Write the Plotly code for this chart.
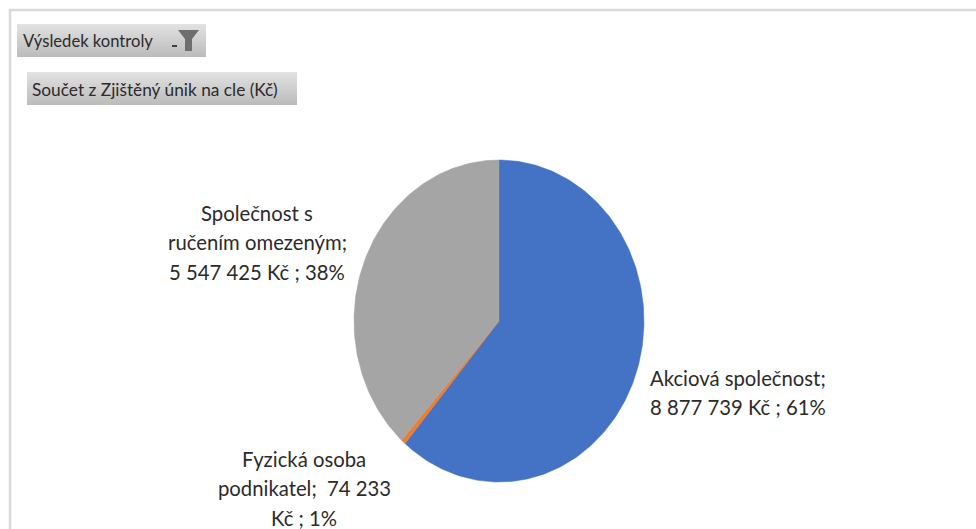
import math
import plotly.graph_objects as go

categories = ["Akciová společnost", "Fyzická osoba podnikatel", "Společnost s ručením omezeným"]
values = [8877739, 74233, 5547425]
slice_colors = ["#4472C4", "#ED7D31", "#A5A5A5"]
label_lines = [
    ["Akciová společnost;", "8 877 739 Kč ; 61%"],
    ["Fyzická osoba", "podnikatel;  74 233", "Kč ; 1%"],
    ["Společnost s", "ručením omezeným;", "5 547 425 Kč ; 38%"],
]
label_positions = [(738, 378), (304, 459), (257, 213)]
label_pitch = 29.3
filter_title = "Výsledek kontroly"
value_title = "Součet z Zjištěný únik na cle (Kč)"

W, H = 976, 529
CX, CY, RX, RY = 499, 321, 145, 161
FONT = "Lato, sans-serif"
TEXT = "#2b2b2b"


def px(x):
    return x / W


def py(y):
    return 1 - y / H


fig = go.Figure()
total = sum(values)
start = 0.0
for name, v, color in zip(categories, values, slice_colors):
    sweep = 360 * v / total
    steps = max(2, int(sweep))
    angles = [start + sweep * i / steps for i in range(steps + 1)]
    xs = [0] + [math.sin(math.radians(a)) for a in angles] + [0]
    ys = [0] + [math.cos(math.radians(a)) for a in angles] + [0]
    fig.add_trace(go.Scatter(
        x=xs, y=ys, mode="lines", fill="toself", fillcolor=color,
        line=dict(color=color, width=0.5), name=name, hoverinfo="name",
        showlegend=False,
    ))
    start += sweep

shapes = []


def gradient_rect(x0, y0, x1, y1):
    n = y1 - y0
    for i in range(n):
        t = i / max(1, n - 1)
        # light grey at the top, darker at the bottom
        g = int(226 - 38 * t)
        shapes.append(dict(
            type="rect", xref="paper", yref="paper", layer="below",
            x0=px(x0), x1=px(x1), y0=py(y0 + i), y1=py(y0 + i + 1),
            fillcolor=f"rgb({g},{g},{g})", line=dict(width=0),
        ))


gradient_rect(17, 24, 206, 57)
gradient_rect(27, 72, 297, 105)

# outer frame lines
shapes.append(dict(type="line", xref="paper", yref="paper", x0=px(9), x1=1, y0=py(10), y1=py(10),
                   line=dict(color="#D9D9D9", width=2.5)))
shapes.append(dict(type="line", xref="paper", yref="paper", x0=px(10), x1=px(10), y0=py(9), y1=0,
                   line=dict(color="#D9D9D9", width=2.5)))

# funnel icon and drop-down mark
funnel = [(178, 30), (199, 30), (192, 39), (192, 51), (185, 51), (185, 39)]
path = "M " + " L ".join(f"{px(x)} {py(y)}" for x, y in funnel) + " Z"
shapes.append(dict(type="path", xref="paper", yref="paper", path=path,
                   fillcolor="#6E6E6E", line=dict(width=0)))
shapes.append(dict(type="rect", xref="paper", yref="paper", x0=px(172), x1=px(177), y0=py(45), y1=py(47),
                   fillcolor="#3F3F3F", line=dict(width=0)))

annotations = [
    dict(text=filter_title, x=px(22), y=py(41), xanchor="left", yanchor="middle",
         font=dict(size=16.6, color=TEXT, family=FONT)),
    dict(text=value_title, x=px(31), y=py(89), xanchor="left", yanchor="middle",
         font=dict(size=17.3, color=TEXT, family=FONT)),
]
for lines, (x, y) in zip(label_lines, label_positions):
    for i, t in enumerate(lines):
        annotations.append(dict(text=t, x=px(x), y=py(y + i * label_pitch), xanchor="center",
                                yanchor="middle", align="center",
                                font=dict(size=20.3, color=TEXT, family=FONT)))
for a in annotations:
    a.update(xref="paper", yref="paper", showarrow=False)
    a["borderpad"] = 0

fig.update_layout(
    width=W, height=H, autosize=False,
    margin=dict(l=0, r=0, t=0, b=0),
    paper_bgcolor="white", plot_bgcolor="rgba(0,0,0,0)",
    shapes=shapes, annotations=annotations,
    xaxis=dict(range=[-CX / RX, (W - CX) / RX], visible=False, fixedrange=True),
    yaxis=dict(range=[-(H - CY) / RY, CY / RY], visible=False, fixedrange=True),
)
fig.write_html("out.html", config={"displayModeBar": False},
               post_script="document.body.style.margin='0';")
